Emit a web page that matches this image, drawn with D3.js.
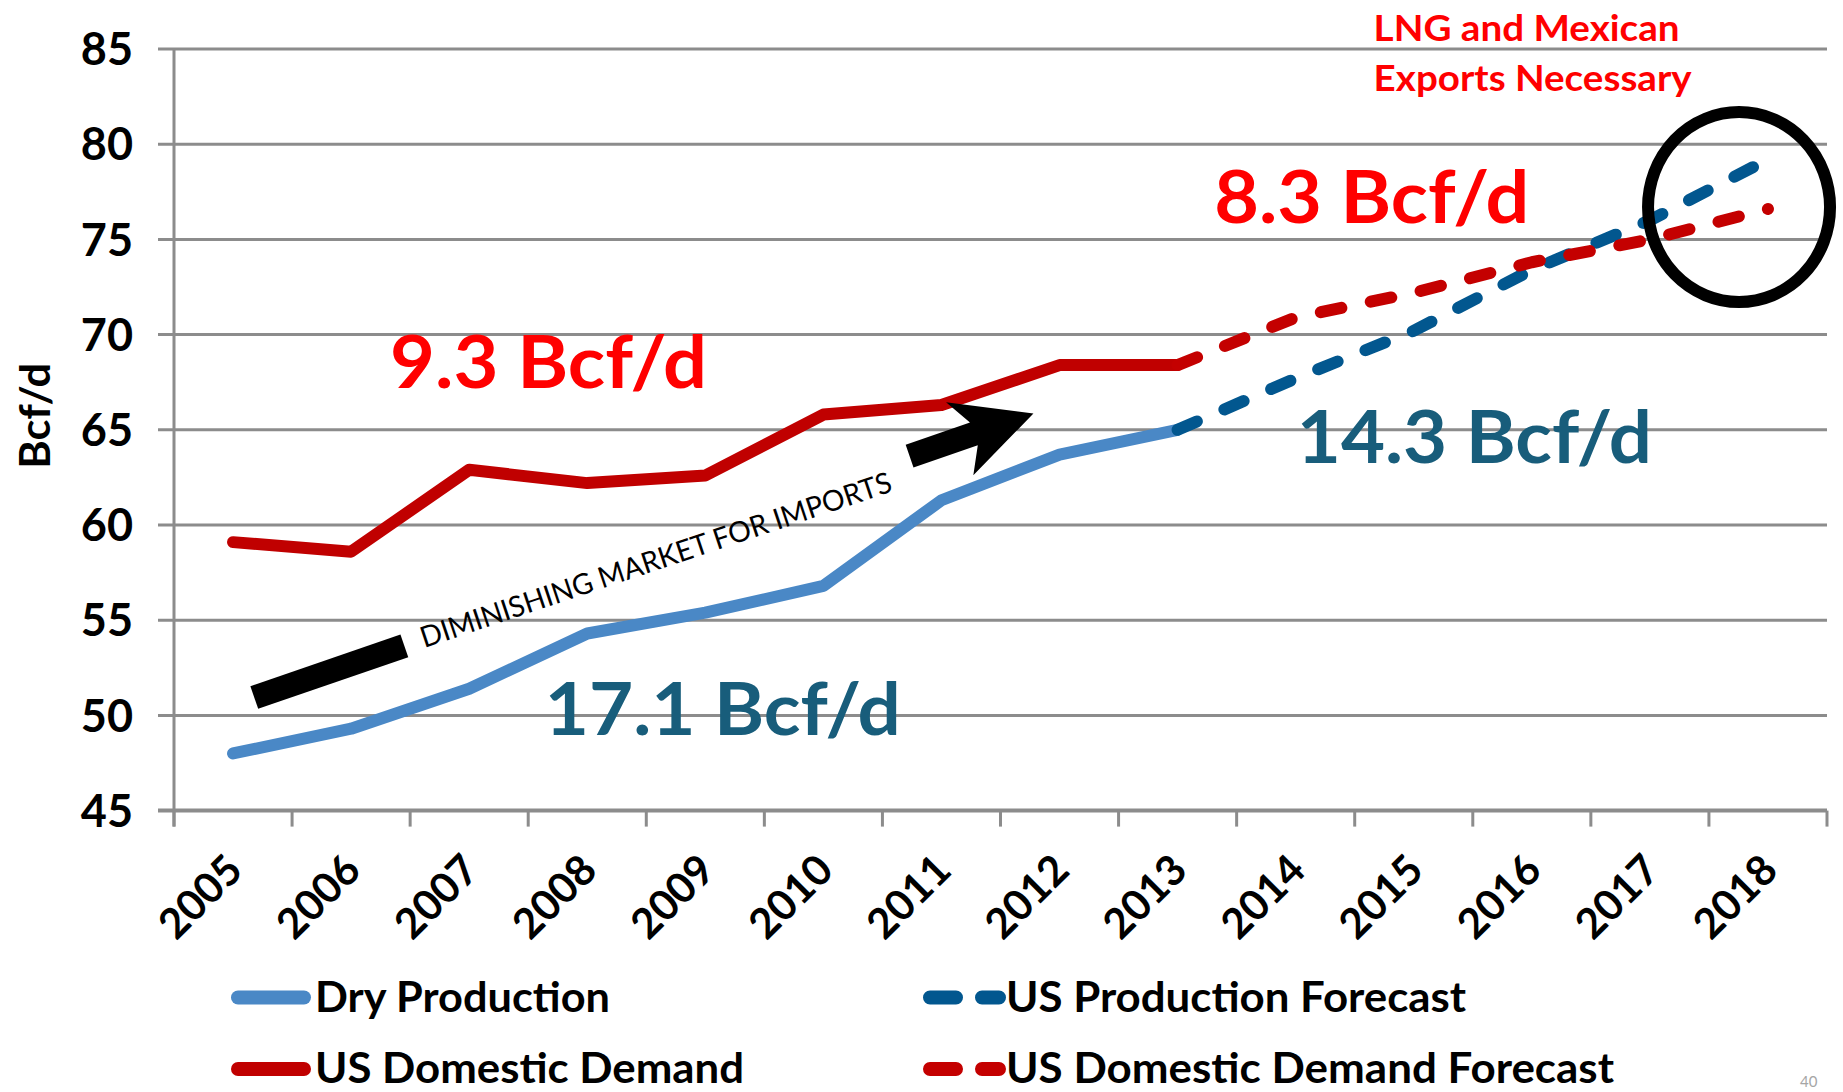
<!DOCTYPE html>
<html>
<head>
<meta charset="utf-8">
<script src="https://cdn.jsdelivr.net/npm/d3@7"></script>
<style>
  html, body { margin: 0; padding: 0; background: #ffffff; }
  svg { display: block; }
  text { font-family: Lato, "Open Sans", "Noto Sans", sans-serif; }
</style>
</head>
<body>
<svg id="chart" width="1843" height="1092"></svg>
<script>
// ---------------- DATA ----------------
const years = ["2005","2006","2007","2008","2009","2010","2011","2012","2013","2014","2015","2016","2017","2018"];
const yTicks = [45, 50, 55, 60, 65, 70, 75, 80, 85];

const historyYears = ["2005","2006","2007","2008","2009","2010","2011","2012","2013"];
const dryProduction    = [48.0, 49.3, 51.4, 54.3, 55.4, 56.8, 61.3, 63.7, 65.0];
const usDomesticDemand = [59.1, 58.6, 62.9, 62.2, 62.6, 65.8, 66.3, 68.4, 68.4];

const forecastYears = ["2013","2014","2015","2016","2017","2018"];
const usProductionForecast     = [65.0, 67.7, 70.2, 73.4, 76.0, 79.2];
const usDomesticDemandForecast = [68.4, 70.9, 72.2, 73.8, 75.0, 76.6];

const legendLabels = ["Dry Production", "US Production Forecast", "US Domestic Demand", "US Domestic Demand Forecast"];
const gapLabels = ["9.3 Bcf/d", "8.3 Bcf/d", "17.1 Bcf/d", "14.3 Bcf/d"];
const exportNote = ["LNG and Mexican", "Exports Necessary"];
const arrowText = "DIMINISHING MARKET FOR IMPORTS";
const axisTitle = "Bcf/d";
const pageNumber = "40";

// ---------------- LAYOUT ----------------
const svg = d3.select("#chart");
const plotLeft = 174, plotRight = 1827, plotTop = 49, plotBottom = 810.6;
const gridColor = "#8c8c8c";
const colDry = "#4a88c6", colProdF = "#02578f", colDem = "#c00000", colDemF = "#c40000";
const colRedText = "#ff0000", colTeal = "#185d7b";

const x = d3.scaleBand().domain(years).range([plotLeft, plotRight]).paddingInner(0).paddingOuter(0);
const cx = d => x(d) + x.bandwidth() / 2;
const y = d3.scaleLinear().domain([45, 85]).range([plotBottom, plotTop]);
// position for annotations expressed in (fractional year, value) space
const px = yr => cx(years[0]) + (yr - 2005) * x.step();

// gridlines (with tick stubs on the left)
svg.append("g").selectAll("line")
  .data(yTicks.filter(t => t > 45))
  .join("line")
  .attr("x1", plotLeft - 16).attr("x2", plotRight)
  .attr("y1", d => y(d)).attr("y2", d => y(d))
  .attr("stroke", gridColor).attr("stroke-width", 3);

// y axis line
svg.append("line")
  .attr("x1", plotLeft).attr("x2", plotLeft)
  .attr("y1", y(85)).attr("y2", plotBottom + 16)
  .attr("stroke", gridColor).attr("stroke-width", 3);

// x axis line
svg.append("line")
  .attr("x1", plotLeft - 16).attr("x2", plotRight)
  .attr("y1", y(45)).attr("y2", y(45))
  .attr("stroke", gridColor).attr("stroke-width", 4);

// x tick marks at category boundaries
const boundaries = years.map(d => x(d)).concat([x(years[years.length - 1]) + x.bandwidth()]);
svg.append("g").selectAll("line")
  .data(boundaries)
  .join("line")
  .attr("x1", d => d).attr("x2", d => d)
  .attr("y1", plotBottom).attr("y2", plotBottom + 16)
  .attr("stroke", gridColor).attr("stroke-width", 3);

// y tick labels
svg.append("g").selectAll("text")
  .data(yTicks)
  .join("text")
  .attr("x", plotLeft - 41).attr("y", d => y(d))
  .attr("dy", "0.36em")
  .attr("text-anchor", "end")
  .attr("font-size", 45).attr("font-weight", 700).attr("fill", "#000")
  .text(d => d);

// x tick labels, rotated
svg.append("g").selectAll("text")
  .data(years)
  .join("text")
  .attr("transform", d => `translate(${cx(d) + 12},${plotBottom + 62}) rotate(-45)`)
  .attr("text-anchor", "end")
  .attr("font-size", 42).attr("font-weight", 700).attr("fill", "#000")
  .text(d => d);

// axis title
svg.append("text")
  .attr("transform", `translate(50,${y(65) - 14}) rotate(-90)`)
  .attr("text-anchor", "middle")
  .attr("font-size", 42).attr("font-weight", 700).attr("fill", "#000")
  .attr("textLength", 106).attr("lengthAdjust", "spacingAndGlyphs")
  .text(axisTitle);

// ---------------- SERIES ----------------
const line = d3.line().x(d => cx(d.year)).y(d => y(d.value));
const zipS = (ys, vs) => ys.map((yy, i) => ({ year: yy, value: vs[i] }));

svg.append("path").datum(zipS(historyYears, dryProduction))
  .attr("d", line).attr("fill", "none").attr("stroke", colDry)
  .attr("stroke-width", 12).attr("stroke-linejoin", "round").attr("stroke-linecap", "round");

svg.append("path").datum(zipS(historyYears, usDomesticDemand))
  .attr("d", line).attr("fill", "none").attr("stroke", colDem)
  .attr("stroke-width", 12).attr("stroke-linejoin", "round").attr("stroke-linecap", "round");

svg.append("path").datum(zipS(forecastYears, usProductionForecast))
  .attr("d", line).attr("fill", "none").attr("stroke", colProdF)
  .attr("stroke-width", 12).attr("stroke-linejoin", "round").attr("stroke-linecap", "round")
  .attr("stroke-dasharray", "21,30");

svg.append("path").datum(zipS(forecastYears, usDomesticDemandForecast))
  .attr("d", line).attr("fill", "none").attr("stroke", colDemF)
  .attr("stroke-width", 12).attr("stroke-linejoin", "round").attr("stroke-linecap", "round")
  .attr("stroke-dasharray", "21,30");

// ---------------- ANNOTATIONS ----------------
const bigText = (str, yr, v, color, len) => svg.append("text")
  .attr("x", px(yr)).attr("y", y(v))
  .attr("font-size", 72).attr("font-weight", 700).attr("fill", color)
  .attr("textLength", len).attr("lengthAdjust", "spacingAndGlyphs")
  .text(str);

bigText(gapLabels[0], 2006.33, 67.19, colRedText, 317);
bigText(gapLabels[1], 2013.31, 75.86, colRedText, 315);
bigText(gapLabels[2], 2007.64, 48.97, colTeal, 356);
bigText(gapLabels[3], 2014.01, 63.26, colTeal, 355);

svg.append("text").attr("x", px(2014.66)).attr("y", y(85.42))
  .attr("font-size", 36).attr("font-weight", 700).attr("fill", colRedText)
  .attr("textLength", 306).attr("lengthAdjust", "spacingAndGlyphs").text(exportNote[0]);
svg.append("text").attr("x", px(2014.66)).attr("y", y(82.8))
  .attr("font-size", 36).attr("font-weight", 700).attr("fill", colRedText)
  .attr("textLength", 318).attr("lengthAdjust", "spacingAndGlyphs").text(exportNote[1]);

// diminishing-market arrow: bar, text, arrow head
const ang = -19;
const b0 = [px(2005.18), y(50.94)], b1 = [px(2006.45), y(53.67)];
const barLen = Math.hypot(b1[0] - b0[0], b1[1] - b0[1]);
svg.append("rect")
  .attr("transform", `translate(${b0[0]},${b0[1]}) rotate(${ang})`)
  .attr("x", 0).attr("y", -12).attr("width", barLen).attr("height", 24)
  .attr("fill", "#000");

svg.append("text")
  .attr("transform", `translate(${px(2006.62)},${y(53.54)}) rotate(-18.5)`)
  .attr("font-size", 29).attr("font-weight", 400).attr("fill", "#000")
  .attr("textLength", 495).attr("lengthAdjust", "spacingAndGlyphs")
  .text(arrowText);

const a0 = [px(2010.73), y(63.62)];
svg.append("path")
  .attr("transform", `translate(${a0[0]},${a0[1]}) rotate(${ang})`)
  .attr("d", "M0,-12 L68,-12 L52,-39 L131,0 L54,39 L68,12 L0,12 Z")
  .attr("fill", "#000");

// circle around the crossover
svg.append("ellipse")
  .attr("cx", px(2017.755)).attr("cy", y(76.7))
  .attr("rx", 91).attr("ry", 95)
  .attr("fill", "none").attr("stroke", "#000").attr("stroke-width", 12);

// ---------------- LEGEND ----------------
const legend = [
  { label: legendLabels[0], color: colDry,   dash: null,    lx: 238, tx: 315, row: 0, len: 295 },
  { label: legendLabels[1], color: colProdF, dash: "26,26", lx: 930, tx: 1006, row: 0, len: 460 },
  { label: legendLabels[2], color: colDem,   dash: null,    lx: 238, tx: 315, row: 1, len: 429 },
  { label: legendLabels[3], color: colDemF,  dash: "26,26", lx: 930, tx: 1006, row: 1, len: 608 }
];
const rowY = [997.5, 1069];
const lg = svg.append("g").selectAll("g").data(legend).join("g");
lg.append("line")
  .attr("x1", d => d.lx).attr("x2", d => d.dash ? d.lx + 69 : d.lx + 66)
  .attr("y1", d => rowY[d.row]).attr("y2", d => rowY[d.row])
  .attr("stroke", d => d.color).attr("stroke-width", 14)
  .attr("stroke-linecap", "round")
  .attr("stroke-dasharray", d => d.dash);
lg.append("text")
  .attr("x", d => d.tx).attr("y", d => rowY[d.row] + 14)
  .attr("font-size", 42).attr("font-weight", 700).attr("fill", "#000")
  .attr("textLength", d => d.len).attr("lengthAdjust", "spacingAndGlyphs")
  .text(d => d.label);

// slide page number, bottom-right corner
svg.append("text").attr("x", 1800).attr("y", 1087)
  .attr("font-size", 15).attr("fill", "#a6a6a6").text(pageNumber);
</script>
</body>
</html>
